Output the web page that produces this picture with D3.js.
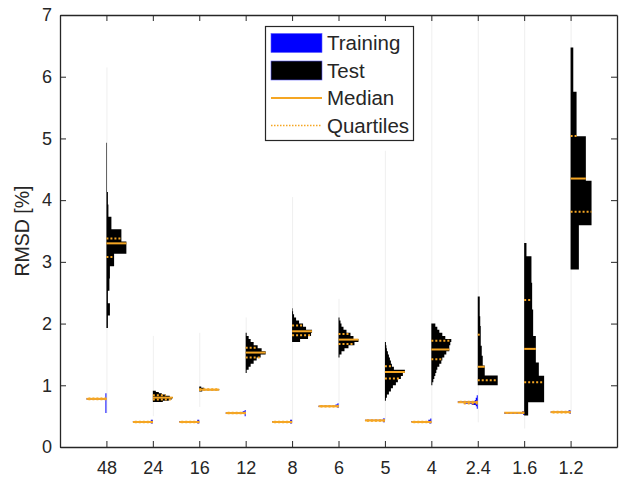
<!DOCTYPE html>
<html>
<head>
  <meta charset="utf-8">
  <title>RMSD distributions</title>
  <script src="https://d3js.org/d3.v7.min.js"></script>
  <style>
    body { margin: 0; background: #fff; font-family: "Liberation Sans", Arial, sans-serif; }
    .axis path, .axis line { stroke: #262626; }
    .axis text { fill: #262626; font-size: 18px; font-family: "Liberation Sans", Arial, sans-serif; }
    .legend text { fill: #262626; font-size: 20.5px; }
  </style>
</head>
<body>
  <svg width="622" height="481"></svg>
  <script>
    // categories along the x axis
    const categories = ["48", "24", "16", "12", "8", "6", "5", "4", "2.4", "1.6", "1.2"];

    // test histograms (right half): first bin edge, bin size, relative counts
    const testStart = [1.93, 0.73, 0.90, 1.20, 1.70, 1.45, 0.75, 1.00, 1.00, 0.51, 2.875];
    const testStep  = [0.2, 0.02, 0.02, 0.05, 0.05, 0.05, 0.05, 0.05, 0.16, 0.215, 0.72];
    const testCounts = [
      [1.5, 3.5, 1.5, 3, 3.5, 7.7, 20, 15, 5, 2, 1.5, 0.6, 0.6, 0.6, 0.6],
      [10, 16, 19, 20, 17, 13, 9, 6, 3],
      [3, 20, 5, 2],
      [1, 3, 5, 8, 11, 15, 20, 16, 12, 8, 5, 3, 1],
      [8, 16, 19, 20, 14, 11, 7, 4, 2, 1, 0.5],
      [1, 3, 6, 10, 16, 20, 15, 12, 8, 5, 3, 2, 1],
      [1, 2, 4, 6, 8, 11, 13, 16, 18, 20, 9, 7, 6, 5, 4, 3, 2, 1.5, 1],
      [1, 2, 3, 4, 5, 6, 8, 10, 11, 13, 15, 18, 18, 19, 20, 14, 11, 8, 6, 4],
      [20, 7, 5, 4, 3, 3, 2.5, 2, 2],
      [4, 20, 20, 14.7, 11.7, 11.7, 9, 9, 8, 8, 7.3, 7.3, 2.3],
      [8.3, 21, 15.3, 6, 2.7]
    ];
    const testMedian = [3.30, 0.80, 0.93, 1.53, 1.875, 1.74, 1.215, 1.58, 1.30, 1.59, 4.35];
    const testQ1     = [3.08, 0.77, 0.925, 1.45, 1.81, 1.67, 1.11, 1.42, 1.08, 1.05, 3.81];
    const testQ3     = [3.38, 0.84, 0.935, 1.61, 1.97, 1.83, 1.31, 1.72, 1.82, 2.38, 5.04];
    // faint outlier tails of the test distributions
    const testTailLo = [0.55, 0.5, 0.65, 1.2, 0.4, 0.64, 0.43, 0.4, 0.4, 0.3, 0.57];
    const testTailHi = [6.15, 1.8, 1.85, 2.1, 4.05, 2.4, 4.8, 7, 7, 7, 7];

    // training histograms (left half)
    const trainStep = 0.02;
    const trainStart = [0.55, 0.38, 0.38, 0.50, 0.38, 0.63, 0.40, 0.38, 0.62, 0.52, 0.535];
    const trainCounts = [
      [1, 1, 1, 1, 1, 1, 1, 1, 1, 1, 1, 20, 1, 1, 1, 1],
      [2, 20, 2],
      [2, 20, 2],
      [1, 1, 20, 3, 1],
      [2, 20, 2],
      [1, 20, 3, 1],
      [2, 20, 2],
      [2, 20, 3, 1],
      [1, 1, 2, 6, 14, 20, 3, 2, 2, 1, 1],
      [1, 20, 2],
      [1, 20, 2]
    ];
    const trainMedian = [0.78, 0.405, 0.405, 0.55, 0.405, 0.66, 0.43, 0.405, 0.725, 0.555, 0.565];
    const trainQ1     = [0.775, 0.40, 0.40, 0.545, 0.40, 0.655, 0.425, 0.40, 0.705, 0.55, 0.56];
    const trainQ3     = [0.785, 0.41, 0.41, 0.555, 0.41, 0.665, 0.435, 0.41, 0.735, 0.56, 0.57];

    const yTicks = [0, 1, 2, 3, 4, 5, 6, 7];

    const orange = "#f5a623";
    const svg = d3.select("svg");
    const mLeft = 60, mRight = 617, mTop = 15, mBottom = 447;

    const x = d3.scaleLinear().domain([0, 12]).range([mLeft, mRight]);
    const y = d3.scaleLinear().domain([0, 7]).range([mBottom, mTop]);
    // relative count -> half width in x units
    const w = d3.scaleLinear().domain([0, 20]).range([0, 0.43]);

    const line = d3.line().x(d => x(d[0])).y(d => y(d[1]));

    // stair outline of a histogram, side = +1 right, -1 left
    function histPoints(pos, start, step, counts, side) {
      const pts = [[pos, start]];
      counts.forEach((c, i) => {
        const xx = pos + side * w(c);
        pts.push([xx, start + i * step]);
        pts.push([xx, start + (i + 1) * step]);
      });
      pts.push([pos, start + counts.length * step]);
      return pts;
    }

    function countAt(v, start, step, counts) {
      const i = Math.max(0, Math.min(counts.length - 1, Math.floor((v - start) / step)));
      return counts[i];
    }

    const g = svg.append("g");

    categories.forEach((cat, k) => {
      const pos = k + 1;

      // faint tails
      g.append("line")
        .attr("x1", x(pos) + 0.5).attr("x2", x(pos) + 0.5)
        .attr("y1", y(testTailLo[k])).attr("y2", y(testTailHi[k]))
        .attr("stroke", "#ebebeb").attr("stroke-width", 0.8);

      g.append("path")
        .attr("d", line(histPoints(pos, trainStart[k], trainStep, trainCounts[k], -1)) + "Z")
        .attr("fill", "#0000ff");

      g.append("path")
        .attr("d", line(histPoints(pos, testStart[k], testStep[k], testCounts[k], 1)) + "Z")
        .attr("fill", "#000");

      const stats = [
        { v: trainQ1[k], side: -1, s: trainStart[k], st: trainStep, c: trainCounts[k], dash: true },
        { v: trainQ3[k], side: -1, s: trainStart[k], st: trainStep, c: trainCounts[k], dash: true },
        { v: testQ1[k], side: 1, s: testStart[k], st: testStep[k], c: testCounts[k], dash: true },
        { v: testQ3[k], side: 1, s: testStart[k], st: testStep[k], c: testCounts[k], dash: true },
        { v: trainMedian[k], side: -1, s: trainStart[k], st: trainStep, c: trainCounts[k], dash: false },
        { v: testMedian[k], side: 1, s: testStart[k], st: testStep[k], c: testCounts[k], dash: false }
      ];
      stats.forEach(d => {
        const cw = countAt(d.v, d.s, d.st, d.c);
        g.append("line")
          .attr("x1", x(pos)).attr("x2", x(pos + d.side * w(cw)))
          .attr("y1", y(d.v)).attr("y2", y(d.v))
          .attr("stroke", orange)
          .attr("stroke-width", 2)
          .attr("stroke-dasharray", d.dash ? "2,2" : null);
      });
    });

    // axes, ticks pointing inward
    svg.append("g").attr("class", "axis")
      .attr("transform", `translate(0,${mBottom})`)
      .call(d3.axisBottom(x).tickValues(d3.range(1, 12)).tickFormat(i => categories[i - 1])
        .tickSizeInner(-6).tickSizeOuter(0).tickPadding(14));
    svg.append("g").attr("class", "axis")
      .attr("transform", `translate(0,${mTop})`)
      .call(d3.axisTop(x).tickValues(d3.range(1, 12)).tickFormat("")
        .tickSizeInner(-6).tickSizeOuter(0));
    svg.append("g").attr("class", "axis")
      .attr("transform", `translate(${mLeft},0)`)
      .call(d3.axisLeft(y).tickValues(yTicks).tickFormat(d3.format("d"))
        .tickSizeInner(-6).tickSizeOuter(0).tickPadding(8));
    svg.append("g").attr("class", "axis")
      .attr("transform", `translate(${mRight},0)`)
      .call(d3.axisRight(y).tickValues(yTicks).tickFormat("")
        .tickSizeInner(-6).tickSizeOuter(0));
    svg.selectAll(".axis .domain").attr("stroke-width", 1.3);

    svg.append("text")
      .attr("transform", `translate(29,${(mTop + mBottom) / 2}) rotate(-90)`)
      .attr("text-anchor", "middle")
      .attr("fill", "#262626")
      .style("font-size", "19.5px")
      .text("RMSD [%]");

    // legend
    const lg = svg.append("g").attr("class", "legend");
    lg.append("rect")
      .attr("x", 265.5).attr("y", 26.5).attr("width", 148).attr("height", 114)
      .attr("fill", "#fff").attr("stroke", "#262626").attr("stroke-width", 1.2);
    const items = [
      { label: "Training", type: "patch", color: "#0000ff" },
      { label: "Test", type: "patch", color: "#000" },
      { label: "Median", type: "line" },
      { label: "Quartiles", type: "dots" }
    ];
    items.forEach((it, i) => {
      const cy = 43 + i * 27.5;
      if (it.type === "patch") {
        lg.append("rect").attr("x", 271).attr("y", cy - 9.5).attr("width", 51).attr("height", 19)
          .attr("fill", it.color).attr("stroke", "#5a5aff").attr("stroke-width", 0.6);
      } else {
        lg.append("line").attr("x1", 271).attr("x2", 322).attr("y1", cy).attr("y2", cy)
          .attr("stroke", orange)
          .attr("stroke-width", it.type === "line" ? 2 : 1.5)
          .attr("stroke-dasharray", it.type === "dots" ? "1.5,1.5" : null);
      }
      lg.append("text").attr("x", 327).attr("y", cy).attr("dy", "0.35em").text(it.label);
    });
  </script>
</body>
</html>
